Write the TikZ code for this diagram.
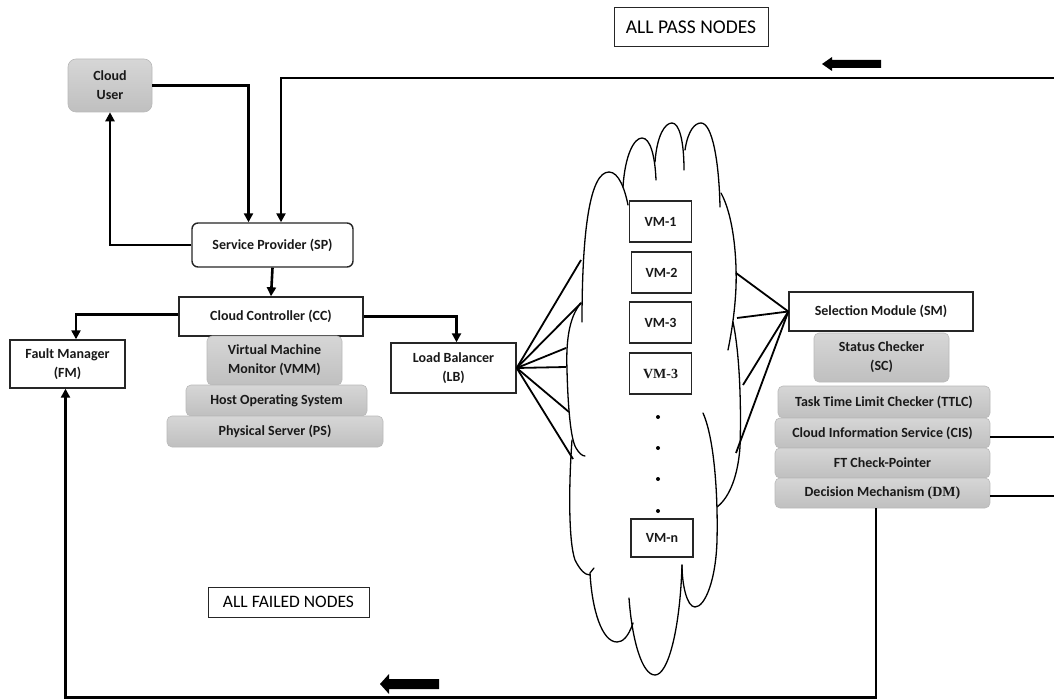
\documentclass[tikz,border=0pt]{standalone}
\usepackage{fontspec}
\setmainfont{Carlito}
\newfontfamily\serifb{Liberation Serif}
\usetikzlibrary{arrows.meta}
\tikzset{
  lbl/.style={font=\bfseries\fontsize{14}{19}\selectfont, align=center, inner sep=0pt, text=black!90},
  wbox/.style={lbl, draw=black!85, line width=1.4pt, fill=white},
  gbox/.style={lbl, draw=gray!55, line width=0.6pt, rounded corners=5pt, top color=gray!32, bottom color=gray!50},
  vmbox/.style={wbox, minimum width=62pt, minimum height=41pt},
  note/.style={draw=black!85, line width=1pt, inner sep=0pt, align=center},
  conn/.style={line width=2.6pt, -{Triangle[length=9pt,width=9pt]}},
  plain/.style={line width=2.6pt},
  fan/.style={line width=1.8pt},
  cloudline/.style={line width=1.3pt, line cap=round},
  blockarrow/.style={fill=black}
}
\begin{document}
\begin{tikzpicture}[x=1pt,y=-1pt]
\path[use as bounding box] (0,0) rectangle (1054,700);

% ---------------- cloud ----------------
\draw[cloudline] (582,322) .. controls (582,230) and (590,172) .. (609,172) .. controls (619,172) and (625,190) .. (628,205);
\draw[cloudline] (623,187) .. controls (625,155) and (634,138) .. (642,138) .. controls (650,138) and (655,155) .. (656,180);
\draw[cloudline] (655,162) .. controls (657,135) and (665,123) .. (672,123) .. controls (679,123) and (684,140) .. (684,170);
\draw[cloudline] (685,150) .. controls (688,130) and (695,123) .. (701,123) .. controls (712,123) and (719,160) .. (720,207);
\draw[cloudline] (721,193) .. controls (733,215) and (737,255) .. (736,287) .. controls (735,310) and (732,330) .. (728,350);
\draw[cloudline] (733,322) .. controls (741,360) and (741,420) .. (740,447) .. controls (738,475) and (730,497) .. (717,507);
\draw[cloudline] (703,413) .. controls (715,440) and (718,500) .. (717,540) .. controls (716,580) and (705,607) .. (695,607) .. controls (687,607) and (682,585) .. (682,565);
\draw[cloudline] (682,565) .. controls (680,630) and (668,675) .. (655,675) .. controls (642,675) and (632,640) .. (629,598);
\draw[cloudline] (633,623) .. controls (628,638) and (622,642) .. (617,642) .. controls (602,642) and (592,610) .. (590,573) -- (594,568);
\draw[cloudline] (581,303) .. controls (568,318) and (566,345) .. (567,370) .. controls (568,410) and (571,440) .. (576,448) .. controls (579,453) and (582,456) .. (585,456);
\draw[cloudline] (572,440) .. controls (569,480) and (568,540) .. (575,560) .. controls (580,570) and (585,575) .. (590,575);

% ---------------- nodes ----------------
\node[gbox, rounded corners=8pt, minimum width=84pt, minimum height=53pt] (cu) at (110,85.5) {Cloud\\User};
\node[wbox, rounded corners=6pt, minimum width=161pt, minimum height=44pt] (sp) at (272.5,245) {Service Provider (SP)};
\node[wbox, minimum width=184pt, minimum height=39pt] (cc) at (271,316.5) {Cloud Controller (CC)};
\node[wbox, minimum width=115pt, minimum height=48pt] (fm) at (67.5,364) {Fault Manager\\(FM)};
\node[gbox, minimum width=135pt, minimum height=49pt] (vmm) at (274.5,360.5) {Virtual Machine\\Monitor (VMM)};
\node[gbox, minimum width=181pt, minimum height=31pt] (hos) at (276.5,400.5) {Host Operating System};
\node[gbox, minimum width=216pt, minimum height=31pt] (ps) at (275,431.5) {Physical Server (PS)};
\node[wbox, minimum width=125pt, minimum height=50pt] (lb) at (453.5,368) {Load Balancer\\(LB)};

\node[vmbox] (vm1) at (660.5,221.5) {VM-1};
\node[vmbox, minimum width=60pt] (vm2) at (661.5,272.5) {VM-2};
\node[vmbox] (vm3) at (660.5,322.5) {VM-3};
\node[vmbox] (vm3b) at (660.5,373.5) {\serifb\bfseries VM-3};
\node[vmbox, minimum height=38pt] (vmn) at (662,538) {VM-n};
\foreach \yy/\nm in {417/d1,448/d2,479/d3,511/d4}
  \fill (658,\yy) circle (2pt) coordinate (\nm);

\node[wbox, minimum width=184pt, minimum height=39pt] (sm) at (881,311.5) {Selection Module (SM)};
\node[gbox, minimum width=135pt, minimum height=49pt] (sc) at (881.5,357.5) {Status Checker\\(SC)};
\node[gbox, minimum width=212pt, minimum height=32pt] (ttlc) at (884,402) {Task Time Limit Checker (TTLC)};
\node[gbox, minimum width=215pt, minimum height=30pt] (cis) at (882.5,433) {Cloud Information Service (CIS)};
\node[gbox, minimum width=215pt, minimum height=30pt] (ftc) at (882.5,463) {FT Check-Pointer};
\node[gbox, minimum width=215pt, minimum height=30pt] (dm) at (882.5,493) {Decision Mechanism {\serifb\bfseries (DM)}};

\node[note, minimum width=154pt, minimum height=39pt, font=\fontsize{19.5}{22}\selectfont] (pass) at (691,27.5) {ALL PASS NODES};
\node[note, minimum width=161pt, minimum height=30pt, font=\fontsize{17.5}{20}\selectfont] (failed) at (288.5,602) {ALL FAILED NODES};

% ---------------- coordinates ----------------
\coordinate (tr) at (1054,78);
\coordinate (rx) at (1054,0);
\foreach \nm/\xx/\yy in {l1/581/260, l2/581/303, l3/566/348, l4/566/367, l5/569/412, l6/573/459,
                         r1/736/273, r2/737/318, r3/743/385, r4/736/453}
  \coordinate (\nm) at (\xx,\yy);

% ---------------- connectors ----------------
\draw[conn] (cu.east) -| ([xshift=-24pt]sp.north);
\draw[conn] (sp.west) -| (cu.south);
\draw[conn] (tr) -| ([xshift=8.5pt]sp.north);
\draw[conn] (sp.south) -- (cc.north);
\draw[conn] ([yshift=2pt]cc.west) -| ([xshift=8.5pt]fm.north);
\draw[conn] (cc.east) -| ([xshift=3pt]lb.north);
\foreach \t in {l1,l2,l3,l4,l5,l6} \draw[fan] (lb.east) -- (\t);
\foreach \t in {r1,r2,r3,r4} \draw[fan] (sm.west) -- (\t);
\draw[plain] ([yshift=-4pt]cis.east) -- ([yshift=-4pt]cis.east -| rx);
\draw[plain] ([yshift=-3pt]dm.east) -- ([yshift=-3pt]dm.east -| rx);
\draw[conn] ([xshift=-6.5pt]dm.south) -- ++(0,189) -| ([xshift=-2pt]fm.south);

% ---------------- block arrows ----------------
\fill[blockarrow] (822,64) -- (832,57) -- (832,60) -- (881,60) -- (881,68) -- (832,68) -- (832,71) -- cycle;
\fill[blockarrow] (380,684) -- (389,674) -- (389,679) -- (439,679) -- (439,689) -- (389,689) -- (389,694) -- cycle;
\end{tikzpicture}
\end{document}
